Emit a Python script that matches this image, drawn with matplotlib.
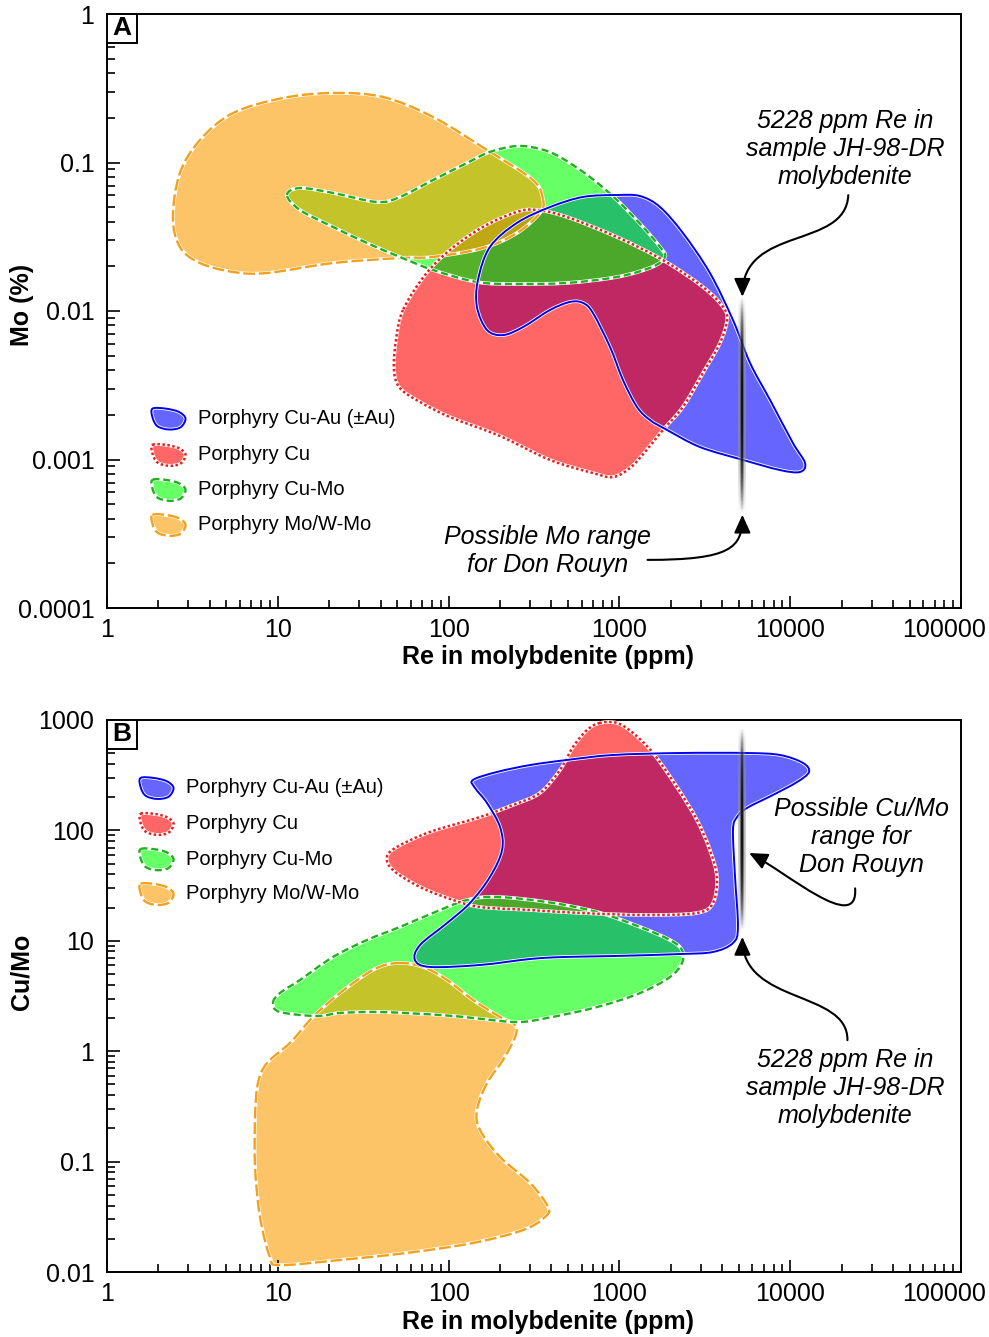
import numpy as np
import matplotlib
matplotlib.use("Agg")
import matplotlib.pyplot as plt
import matplotlib.transforms as mtransforms
from matplotlib.path import Path
from matplotlib.patches import PathPatch, FancyArrowPatch, Rectangle
from matplotlib.collections import LineCollection
from matplotlib.colors import ListedColormap
from matplotlib.ticker import LogLocator, NullFormatter

plt.rcParams['font.family'] = ['Liberation Sans', 'DejaVu Sans']

# ---- field outlines as log10 values ----
# panel A: log10(Re ppm) vs log10(Mo %)
a_cuau_lre = [2.986, 3.121, 3.238, 3.372, 3.530, 3.665, 3.765, 3.882, 4.016, 4.087, 4.057, 3.940,
              3.724, 3.472, 3.279, 3.179, 3.103, 3.021, 2.945, 2.845, 2.787, 2.711, 2.594, 2.436,
              2.319, 2.225, 2.166, 2.172, 2.242, 2.400, 2.594, 2.787]
a_cuau_lmo = [-1.219, -1.226, -1.300, -1.475, -1.744, -2.061, -2.350, -2.599, -2.889, -3.024, -3.084, -3.071,
              -3.003, -2.916, -2.801, -2.734, -2.646, -2.465, -2.242, -2.013, -1.946, -1.939, -1.993, -2.108,
              -2.162, -2.128, -1.973, -1.791, -1.569, -1.407, -1.300, -1.232]

a_cu_lre = [1.733, 1.692, 1.680, 1.715, 1.833, 2.008, 2.301, 2.594, 2.845, 2.963, 3.062, 3.150, 3.255,
            3.372, 3.489, 3.589, 3.630, 3.607, 3.489, 3.255, 2.986, 2.693, 2.518, 2.400, 2.201, 2.008, 1.862]
a_cu_lmo = [-1.993, -2.195, -2.397, -2.519, -2.613, -2.714, -2.842, -3.003, -3.091, -3.118, -3.057, -2.949, -2.801,
            -2.646, -2.418, -2.215, -2.061, -1.973, -1.838, -1.657, -1.502, -1.367, -1.320, -1.333, -1.434, -1.589, -1.758]

a_cumo_lre = [1.054, 1.130, 1.323, 1.581, 1.715, 1.909, 2.108, 2.242, 2.400, 2.535, 2.652, 2.828, 2.986,
              3.138, 3.238, 3.267, 3.191, 2.986, 2.693, 2.400, 2.166, 1.909, 1.715, 1.522, 1.323, 1.130]
a_cumo_lmo = [-1.219, -1.172, -1.205, -1.266, -1.232, -1.118, -1.003, -0.929, -0.889, -0.909, -0.963, -1.098, -1.253,
              -1.434, -1.569, -1.636, -1.704, -1.771, -1.811, -1.818, -1.805, -1.724, -1.636, -1.542, -1.434, -1.320]

a_mo_lre = [2.553, 2.535, 2.400, 2.201, 1.909, 1.715, 1.323, 0.937, 0.738, 0.545, 0.427, 0.386, 0.427,
            0.545, 0.738, 1.030, 1.323, 1.616, 1.909, 2.225, 2.494]
a_mo_lmo = [-1.253, -1.340, -1.475, -1.576, -1.636, -1.643, -1.677, -1.744, -1.737, -1.677, -1.569, -1.367, -1.071,
            -0.848, -0.667, -0.566, -0.532, -0.559, -0.694, -0.916, -1.118]

# panel B: log10(Re ppm) vs log10(Cu/Mo)
b_cuau_lre = [2.143, 2.283, 2.477, 2.693, 2.963, 3.355, 3.747, 3.940, 4.075, 4.110, 4.040, 3.899, 3.747,
              3.689, 3.665, 3.677, 3.694, 3.665, 3.548, 3.355, 2.963, 2.670, 2.477, 2.184, 1.891, 1.803,
              1.833, 1.991, 2.125, 2.242, 2.313, 2.301, 2.225, 2.155]
b_cuau_lcm = [2.457, 2.529, 2.592, 2.638, 2.683, 2.701, 2.701, 2.683, 2.611, 2.529, 2.438, 2.321, 2.203,
              2.121, 2.004, 1.578, 1.125, 0.980, 0.899, 0.880, 0.862, 0.853, 0.835, 0.781, 0.763, 0.826,
              0.962, 1.161, 1.342, 1.578, 1.822, 2.031, 2.248, 2.384]

b_cu_lre = [2.886, 2.810, 2.728, 2.652, 2.535, 2.377, 2.184, 1.891, 1.698, 1.639, 1.674, 1.833, 2.026,
            2.184, 2.477, 2.769, 3.162, 3.454, 3.548, 3.571, 3.530, 3.454, 3.337, 3.197, 3.080, 2.986]
b_cu_lcm = [2.973, 2.909, 2.755, 2.547, 2.339, 2.230, 2.121, 1.986, 1.850, 1.759, 1.641, 1.487, 1.370,
            1.306, 1.279, 1.252, 1.234, 1.252, 1.342, 1.578, 1.822, 2.094, 2.393, 2.701, 2.882, 2.973]

b_cumo_lre = [0.972, 1.013, 1.130, 1.323, 1.522, 1.715, 1.909, 2.108, 2.283, 2.576, 2.869, 3.121, 3.296,
              3.366, 3.366, 3.296, 3.121, 2.869, 2.576, 2.400, 2.143, 1.950, 1.598, 1.364, 1.230, 1.013]
b_cumo_lcm = [0.437, 0.527, 0.645, 0.853, 1.007, 1.125, 1.252, 1.370, 1.397, 1.351, 1.261, 1.125, 1.007,
              0.917, 0.799, 0.672, 0.527, 0.400, 0.301, 0.264, 0.301, 0.328, 0.355, 0.346, 0.319, 0.355]

b_mo_lre = [1.698, 1.850, 1.991, 2.143, 2.301, 2.389, 2.389, 2.318, 2.225, 2.166, 2.184, 2.301, 2.477,
            2.582, 2.564, 2.436, 2.143, 1.756, 1.364, 1.013, 0.954, 0.896, 0.867, 0.867, 0.884, 0.937,
            1.071, 1.206, 1.364, 1.557]
b_mo_lcm = [0.799, 0.763, 0.645, 0.464, 0.310, 0.237, 0.129, -0.080, -0.288, -0.533, -0.714, -0.958, -1.194,
            -1.411, -1.502, -1.620, -1.737, -1.827, -1.891, -1.937, -1.864, -1.502, -1.049, -0.596, -0.288, -0.107,
            0.074, 0.310, 0.527, 0.736]

legend_names = ["Porphyry Cu-Au (\u00b1Au)", "Porphyry Cu", "Porphyry Cu-Mo", "Porphyry Mo/W-Mo"]

re_sample = 5228            # ppm Re in JH-98-DR molybdenite
don_rouyn_mo = [0.000436, 0.0124]
don_rouyn_cumo = [12.5, 847]

x_ticks = [1, 10, 100, 1000, 10000, 100000]
x_labels = ["1", "10", "100", "1000", "10000", "100000"]
a_yticks = [0.0001, 0.001, 0.01, 0.1, 1]
a_ylabels = ["0.0001", "0.001", "0.01", "0.1", "1"]
b_yticks = [0.01, 0.1, 1, 10, 100, 1000]
b_ylabels = ["0.01", "0.1", "1", "10", "100", "1000"]

# fill colour for each membership combination (1 Cu-Au, 2 Cu, 4 Cu-Mo, 8 Mo/W-Mo)
combo = {0: '#FFFFFF', 1: '#6666FF', 2: '#FF6666', 3: '#C02864', 4: '#66FF66', 5: '#28C068',
         6: '#56B02A', 7: '#4CA82A', 8: '#FCC466', 9: '#A89098', 10: '#C2AA14', 11: '#A04840',
         12: '#C4C42A', 13: '#8AAE48', 14: '#BFA812', 15: '#B8A412'}
edge_styles = {
    1: dict(color='#0000EE', ls='-', lw=1.4),
    2: dict(color='#EE1C1C', ls=(0, (1, 1)), lw=1.8),
    4: dict(color='#1FAF1F', ls=(0, (3, 1.6)), lw=1.7),
    8: dict(color='#F2A11E', ls=(0, (5, 1.6)), lw=1.7),
}


def smooth(lx, ly):
    # closed Catmull-Rom outline as cubic Bezier path
    p = np.column_stack([lx, ly]).astype(float)
    n = len(p)
    verts = [p[0]]
    codes = [Path.MOVETO]
    for i in range(n):
        p0, p1, p2, p3 = p[i - 1], p[i], p[(i + 1) % n], p[(i + 2) % n]
        verts += [p1 + (p2 - p0) / 6, p2 - (p3 - p1) / 6, p2]
        codes += [Path.CURVE4] * 3
    verts.append(p[0])
    codes.append(Path.CLOSEPOLY)
    return Path(np.array(verts), codes)


def outline(ax, path, bit, transform=None, zorder=3):
    kw = {} if transform is None else dict(transform=transform)
    st = edge_styles[bit]
    ax.add_artist(PathPatch(path, fill=False, edgecolor='white', lw=2.6, zorder=zorder, **kw))
    ax.add_artist(PathPatch(path, fill=False, edgecolor=st['color'], ls=st['ls'], lw=st['lw'],
                            zorder=zorder, **kw))


def draw_fields(ax, fields, ylog, ny):
    paths = [smooth(lx, ly) for lx, ly in fields]
    xe = np.linspace(0, 5, 861)
    ye = np.linspace(ylog[0], ylog[1], ny + 1)
    xc = (xe[:-1] + xe[1:]) / 2
    yc = (ye[:-1] + ye[1:]) / 2
    X, Y = np.meshgrid(xc, yc)
    pts = np.column_stack([X.ravel(), Y.ravel()])
    code = np.zeros(len(pts), dtype=int)
    for bit, p in zip([1, 2, 4, 8], paths):
        code |= p.contains_points(pts).astype(int) * bit
    code = code.reshape(X.shape)
    cmap = ListedColormap([combo[i] for i in range(16)])
    ax.pcolormesh(10 ** xe, 10 ** ye, np.ma.masked_equal(code, 0), cmap=cmap, vmin=-0.5, vmax=15.5,
                  shading='flat', antialiased=False, linewidth=0, rasterized=True, zorder=1)
    for bit, p in zip([8, 4, 2, 1], paths[::-1]):
        outline(ax, Path(10 ** p.vertices, p.codes), bit)


def draw_bar(ax, x, lo, hi):
    n = 160
    ys = np.logspace(np.log10(lo), np.log10(hi), n + 1)
    t = np.linspace(-1, 1, n)
    a = np.clip(1 - np.abs(t) ** 2.2, 0, 1)
    segs = [[(x, ys[i]), (x, ys[i + 1])] for i in range(n)]
    gray = np.zeros((n, 4))
    gray[:, :3] = 0.6
    gray[:, 3] = a * 0.6
    dark = np.zeros((n, 4))
    dark[:, :3] = 0.3
    dark[:, 3] = a * 0.75
    black = np.zeros((n, 4))
    black[:, 3] = a * 0.95
    ax.add_collection(LineCollection(segs, colors=gray, linewidths=5.5, capstyle='butt', zorder=4),
                      autolim=False)
    ax.add_collection(LineCollection(segs, colors=dark, linewidths=3.0, capstyle='butt', zorder=4),
                      autolim=False)
    ax.add_collection(LineCollection(segs, colors=black, linewidths=1.2, capstyle='butt', zorder=4),
                      autolim=False)


def curved_arrow(ax, pts):
    path = Path(pts, [Path.MOVETO, Path.CURVE4, Path.CURVE4, Path.CURVE4])
    ax.add_artist(FancyArrowPatch(path=path, arrowstyle='-|>,head_length=0.55,head_width=0.25',
                                  mutation_scale=20, lw=1.5, color='black', transform=ax.transAxes,
                                  zorder=6))


blob_x = [-0.5, -0.1, 0.3, 0.5, 0.35, 0.0, -0.35, -0.5]
blob_y = [0.45, 0.45, 0.3, 0.0, -0.4, -0.5, -0.35, 0.05]


def legend(ax, x0, ys, w, h, tx):
    blob = smooth(blob_x, blob_y)
    for bit, y, name in zip([1, 2, 4, 8], ys, legend_names):
        trf = mtransforms.Affine2D().scale(w, h).translate(x0, y) + ax.transAxes
        ax.add_artist(PathPatch(blob, facecolor=combo[bit], edgecolor='none', transform=trf, zorder=5))
        outline(ax, blob, bit, transform=trf, zorder=5)
        ax.text(tx, y, name, transform=ax.transAxes, fontsize=14.5, va='center', ha='left', zorder=6)


def style_axes(ax, yticks, ylabels, ylim, box_h, label, ylab, ylab_y, xlab_y):
    ax.set_xscale('log')
    ax.set_yscale('log')
    ax.set_xlim(1, 100000)
    ax.set_ylim(*ylim)
    ax.set_xticks(x_ticks)
    ax.set_xticklabels(x_labels)
    ax.set_yticks(yticks)
    ax.set_yticklabels(ylabels)
    for axis in (ax.xaxis, ax.yaxis):
        axis.set_minor_locator(LogLocator(base=10, subs=np.arange(2, 10), numticks=20))
        axis.set_minor_formatter(NullFormatter())
    ax.tick_params(which='both', direction='in', top=False, right=False, width=1.2, labelsize=18)
    ax.tick_params(which='major', length=9)
    ax.tick_params(which='minor', length=5.5)
    ax.tick_params(axis='x', pad=7)
    ax.tick_params(axis='y', pad=9)
    # last x label sits left of its tick in the original
    last = ax.get_xticklabels()[-1]
    last.set_transform(last.get_transform() +
                       mtransforms.ScaledTranslation(-0.17, 0, ax.figure.dpi_scale_trans))
    for s in ax.spines.values():
        s.set_linewidth(1.4)
    ax.set_xlabel("Re in molybdenite (ppm)", fontsize=18, fontweight='bold', va='center')
    ax.xaxis.set_label_coords(0.516, xlab_y)
    ax.set_ylabel(ylab, fontsize=18, fontweight='bold', va='center')
    ax.yaxis.set_label_coords(-0.1, ylab_y)
    ax.add_artist(Rectangle((0, 1 - box_h), 0.0351, box_h, transform=ax.transAxes, facecolor='white',
                            edgecolor='black', lw=1.4, zorder=7))
    ax.text(0.0176, 1 - box_h / 2, label, transform=ax.transAxes, ha='center', va='center',
            fontsize=19, fontweight='bold', zorder=8)


fig = plt.figure(figsize=(9.89, 13.37), dpi=100)
axA = fig.add_axes([107 / 989, 1 - 608 / 1337, 854 / 989, 594 / 1337])
axB = fig.add_axes([107 / 989, 1 - 1272 / 1337, 854 / 989, 552 / 1337])

note_kw = dict(ha='center', va='center', fontsize=18, style='italic', linespacing=1.2)
tip_x = 0.744

# ---- panel A ----
draw_fields(axA, [(a_cuau_lre, a_cuau_lmo), (a_cu_lre, a_cu_lmo), (a_cumo_lre, a_cumo_lmo),
                  (a_mo_lre, a_mo_lmo)], (-4, 0), 600)
draw_bar(axA, re_sample, *don_rouyn_mo)
legend(axA, 0.0726, [0.319, 0.258, 0.199, 0.140], 0.0386, 0.037, 0.107)
axA.text(0.864, 0.773, "5228 ppm Re in\nsample JH-98-DR\nmolybdenite", transform=axA.transAxes, **note_kw)
axA.text(0.516, 0.096, "Possible Mo range\nfor Don Rouyn", transform=axA.transAxes, **note_kw)
curved_arrow(axA, [(0.868, 0.695), (0.865, 0.603), (tip_x, 0.645), (tip_x, 0.524)])
curved_arrow(axA, [(0.633, 0.081), (0.730, 0.081), (tip_x, 0.101), (tip_x, 0.157)])
style_axes(axA, a_yticks, a_ylabels, (0.0001, 1), 0.0488, "A", "Mo (%)", 0.51, -0.083)

# ---- panel B ----
draw_fields(axB, [(b_cuau_lre, b_cuau_lcm), (b_cu_lre, b_cu_lcm), (b_cumo_lre, b_cumo_lcm),
                  (b_mo_lre, b_mo_lcm)], (-2, 3), 560)
draw_bar(axB, re_sample, *don_rouyn_cumo)
legend(axB, 0.0586, [0.877, 0.812, 0.748, 0.685], 0.0386, 0.04, 0.093)
axB.text(0.883, 0.788, "Possible Cu/Mo\nrange for\nDon Rouyn", transform=axB.transAxes, **note_kw)
axB.text(0.864, 0.333, "5228 ppm Re in\nsample JH-98-DR\nmolybdenite", transform=axB.transAxes, **note_kw)
curved_arrow(axB, [(0.876, 0.695), (0.880, 0.610), (0.795, 0.725), (0.752, 0.759)])
curved_arrow(axB, [(0.867, 0.420), (0.868, 0.511), (tip_x, 0.484), (tip_x, 0.607)])
style_axes(axB, b_yticks, b_ylabels, (0.01, 1000), 0.0525, "B", "Cu/Mo", 0.543, -0.09)

fig.savefig("out.png", dpi=100)
